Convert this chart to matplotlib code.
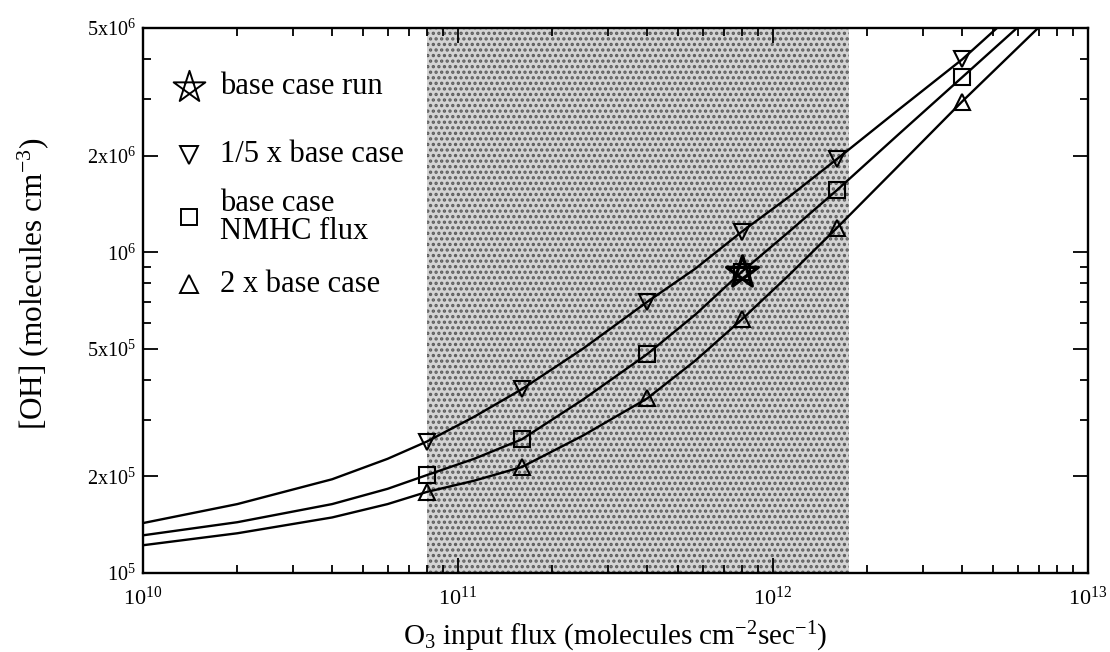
import numpy as np
import matplotlib.pyplot as plt
from matplotlib.path import Path
from matplotlib.ticker import FixedLocator, NullFormatter

plt.rcParams['font.family'] = 'Liberation Serif'
plt.rcParams['mathtext.fontset'] = 'custom'
plt.rcParams['mathtext.rm'] = 'Liberation Serif'
plt.rcParams['mathtext.it'] = 'Liberation Serif:italic'
plt.rcParams['hatch.linewidth'] = 1.6

# O3 input flux of the model runs (molecules cm-2 s-1)
run_flux = [8e10, 1.6e11, 4e11, 8e11, 1.6e12, 4e12]
# [OH] at each run for the three NMHC flux cases (molecules cm-3)
oh_fifth = [2.57e5, 3.74e5, 7.0e5, 1.16e6, 1.95e6, 3.99e6]
oh_base = [2.02e5, 2.61e5, 4.81e5, 8.7e5, 1.56e6, 3.51e6]
oh_double = [1.79e5, 2.14e5, 3.50e5, 6.18e5, 1.19e6, 2.95e6]

base_run_flux = [8e11]
base_run_oh = [8.7e5]

# model curves
curve_flux = [1e10, 2e10, 4e10, 6e10, 8e10, 1.13e11, 1.6e11, 2.5e11,
              4e11, 5.7e11, 8e11, 1.13e12, 1.6e12, 2.5e12, 4e12]
curve_fifth = [1.43e5, 1.64e5, 1.96e5, 2.27e5, 2.57e5, 3.07e5, 3.74e5, 5.0e5,
               7.0e5, 8.9e5, 1.16e6, 1.49e6, 1.95e6, 2.77e6, 3.99e6]
curve_base = [1.31e5, 1.44e5, 1.64e5, 1.83e5, 2.02e5, 2.27e5, 2.61e5, 3.47e5,
              4.81e5, 6.4e5, 8.7e5, 1.16e6, 1.56e6, 2.32e6, 3.51e6]
curve_double = [1.22e5, 1.33e5, 1.49e5, 1.64e5, 1.79e5, 1.94e5, 2.14e5, 2.68e5,
                3.50e5, 4.6e5, 6.18e5, 8.5e5, 1.19e6, 1.85e6, 2.95e6]
# where each curve leaves the top of the plot
curve_end_flux = [5.16e12, 5.97e12, 6.97e12]
curve_end_oh = [5e6, 5e6, 5e6]

# range of observed O3 flux
obs_flux_lo, obs_flux_hi = 8e10, 1.75e12

y_ticks = [1e5, 2e5, 5e5, 1e6, 2e6, 5e6]
y_ticklabels = [r'$\mathregular{10^5}$', r'$\mathregular{2x10^5}$', r'$\mathregular{5x10^5}$',
                r'$\mathregular{10^6}$', r'$\mathregular{2x10^6}$', r'$\mathregular{5x10^6}$']
x_ticks = [1e10, 1e11, 1e12, 1e13]
x_ticklabels = [r'$\mathregular{10^{10}}$', r'$\mathregular{10^{11}}$',
                r'$\mathregular{10^{12}}$', r'$\mathregular{10^{13}}$']

legend_labels = ['base case run', '1/5 x base case', 'base case\nNMHC flux', '2 x base case']

# pentagram drawn with its inner crossing lines
ang = np.pi / 2 + np.arange(5) * 2 * np.pi / 5
pts = np.column_stack([np.cos(ang), np.sin(ang)])
star = Path(pts[[0, 2, 4, 1, 3, 0]], [Path.MOVETO] + [Path.LINETO] * 4 + [Path.CLOSEPOLY])

fig = plt.figure(figsize=(11.1, 6.52), dpi=100)
ax = fig.add_axes([142.5 / 1110, 1 - 573 / 652, 945 / 1110, 545 / 652])
ax.set_xscale('log')
ax.set_yscale('log')

ax.axvspan(obs_flux_lo, obs_flux_hi, facecolor='#d4d4d4', edgecolor='#5c5c5c',
           hatch='...', lw=0, zorder=0)

ends = list(zip(curve_end_flux, curve_end_oh))
for vals, end in zip([curve_fifth, curve_base, curve_double], ends):
    ax.plot(curve_flux + [end[0]], vals + [end[1]], color='black', lw=1.7, zorder=2)

mk = dict(color='black', mfc='none', mew=1.5, ls='none', zorder=3)
ax.plot(run_flux, oh_fifth, marker='v', ms=12, **mk)
ax.plot(run_flux, oh_base, marker='s', ms=12, **mk)
ax.plot(run_flux, oh_double, marker='^', ms=12, **mk)
ax.plot(base_run_flux, base_run_oh, marker=star, ms=24, color='black', mfc='none',
        mew=2.4, ls='none', zorder=4)

ax.set_xlim(1e10, 1e13)
ax.set_ylim(1e5, 5e6)

ax.xaxis.set_major_locator(FixedLocator(x_ticks))
ax.set_xticklabels(x_ticklabels)
ax.xaxis.set_minor_locator(FixedLocator([m * 10.0 ** e for e in (10, 11, 12) for m in range(2, 10)]))
ax.xaxis.set_minor_formatter(NullFormatter())
ax.yaxis.set_major_locator(FixedLocator(y_ticks))
ax.set_yticklabels(y_ticklabels)
ax.yaxis.set_minor_locator(FixedLocator([m * 10.0 ** e for e in (5, 6) for m in (3, 4, 6, 7, 8, 9)
                                         if m * 10.0 ** e < 5e6]))
ax.yaxis.set_minor_formatter(NullFormatter())

ax.tick_params(which='both', direction='in', top=True, right=True, width=1.3)
ax.tick_params(which='major', length=11)
ax.tick_params(which='minor', length=5.5)
ax.tick_params(axis='x', which='major', pad=10, labelsize=16)
ax.tick_params(axis='y', which='major', pad=5, labelsize=14.5)
for sp in ax.spines.values():
    sp.set_linewidth(1.7)

ax.set_xlabel(r'O$_3$ input flux (molecules cm$^{-2}$sec$^{-1}$)', fontsize=21, labelpad=7)
ax.set_ylabel(r'[OH] (molecules cm$^{-3}$)', fontsize=22.5)
ax.yaxis.set_label_coords(-0.097, 0.53)

# legend drawn in axes fraction
leg_marks = [(star, 24), ('v', 13), ('s', 12), ('^', 13)]
leg_y = [0.892, 0.767, 0.653, 0.530]
for (m, s), y, lab in zip(leg_marks, leg_y, legend_labels):
    ax.plot([0.049], [y], marker=m, ms=s, color='black', mfc='none', mew=1.4,
            ls='none', transform=ax.transAxes)
    ax.text(0.082, y, lab, transform=ax.transAxes, fontsize=22, va='center',
            ha='left', linespacing=0.95)

fig.savefig('out.png', dpi=100)
